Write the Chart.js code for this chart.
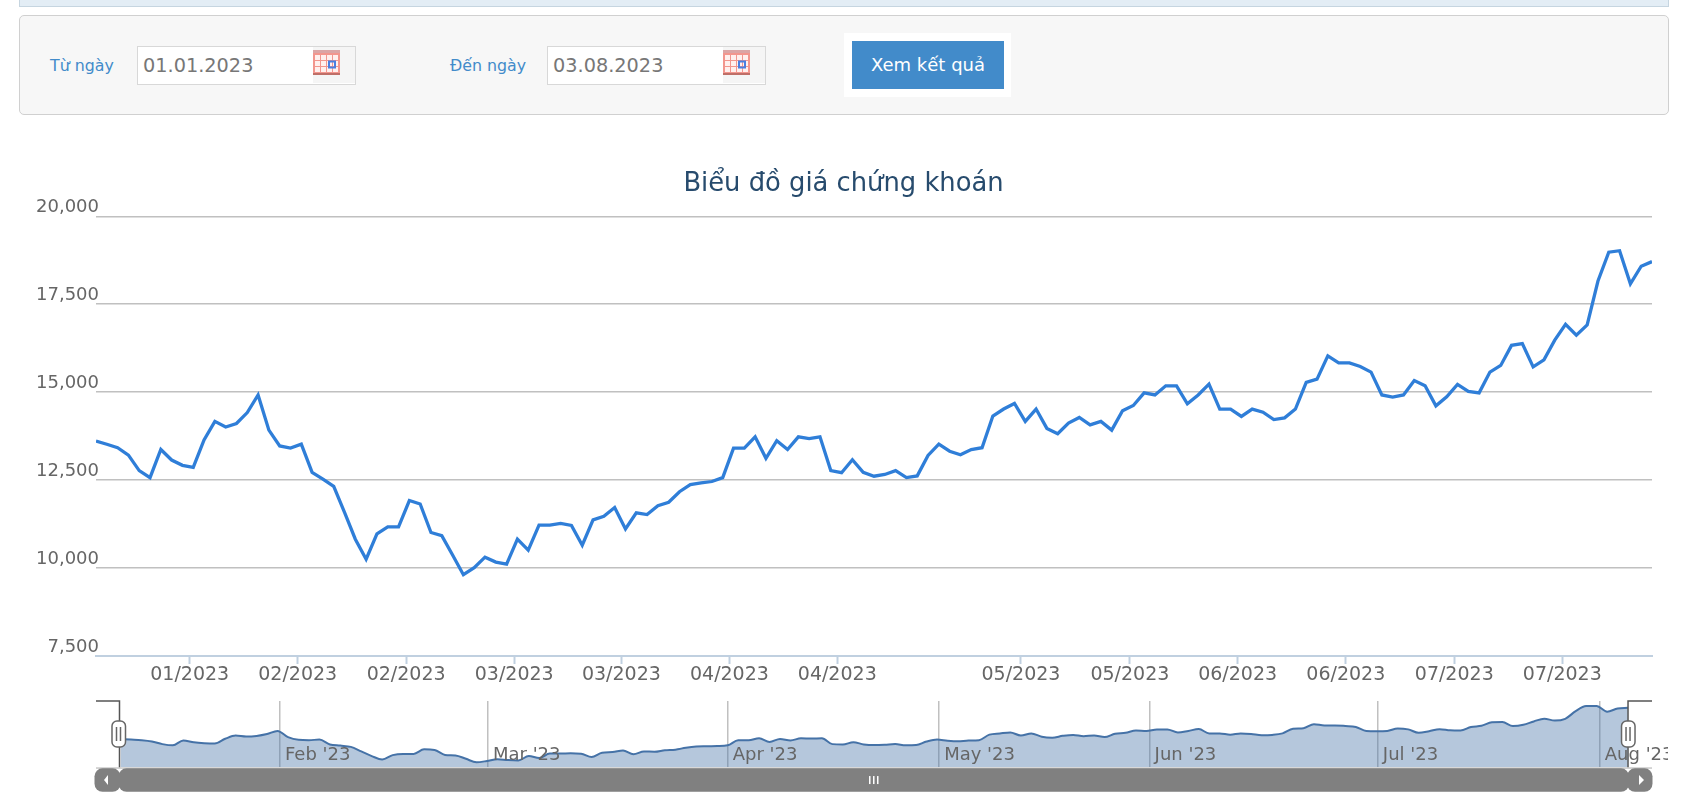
<!DOCTYPE html>
<html lang="vi">
<head>
<meta charset="utf-8">
<title>Biểu đồ giá chứng khoán</title>
<script src="https://cdn.jsdelivr.net/npm/chart.js@4"></script>
<style>
html, body { margin: 0; padding: 0; background: #fff; width: 1708px; height: 800px; overflow: hidden; font-family: "DejaVu Sans", sans-serif; }
.abs { position: absolute; box-sizing: border-box; }
#strip { left: 19px; top: -2px; width: 1650px; height: 9px; background: #e3edf5; border: 1.5px solid #c6d5e0; }
#panel { left: 19px; top: 15px; width: 1650px; height: 100px; background: #f7f7f7; border: 1.5px solid #d0d0d0; border-radius: 5px; }
.lbl { color: #428bca; font-size: 15.8px; line-height: 20px; top: 56px; white-space: nowrap; }
.inp { top: 46px; width: 219px; height: 39px; background: #fff; border: 1.5px solid #d8d8d8; color: #777; font-size: 19.3px; line-height: 38px; padding-left: 5px; white-space: nowrap; }
.inp span { position: absolute; left: 175px; top: 0; width: 42px; height: 36px; background: #f5f5f5; }
.inp svg { position: absolute; left: 175px; top: 3px; }
#btnWrap { left: 844px; top: 33px; width: 167px; height: 64px; background: #fff; }
#btn { left: 852px; top: 41px; width: 152px; height: 48px; background: #428bca; color: #fff; font-size: 18px; line-height: 48px; text-align: center; white-space: nowrap; }
#mainBox { left: 0; top: 150px; width: 1708px; height: 546px; }
#navBox { left: 19px; top: 690px; width: 1649px; height: 110px; }
</style>
</head>
<body>
<svg width="0" height="0" style="position:absolute">
  <defs>
    <symbol id="cal" viewBox="0 0 27 25">
      <rect x="0" y="0" width="27" height="25" fill="#f2968e"/>
      <rect x="0" y="0" width="27" height="3" fill="#dba5a5"/>
      <g fill="#fff0ee">
        <rect x="2" y="5" width="5" height="5"/><rect x="8" y="5" width="5" height="5"/><rect x="14" y="5" width="5" height="5"/><rect x="20" y="5" width="5" height="5"/>
        <rect x="2" y="11" width="5" height="5"/><rect x="8" y="11" width="5" height="5"/><rect x="14" y="11" width="5" height="5"/><rect x="20" y="11" width="5" height="5"/>
        <rect x="2" y="17" width="5" height="5"/><rect x="8" y="17" width="5" height="5"/><rect x="14" y="17" width="5" height="5"/><rect x="20" y="17" width="5" height="5"/>
      </g>
      <rect x="0" y="23" width="27" height="2" fill="#bf6f68"/>
      <rect x="16" y="11.5" width="6" height="6" fill="none" stroke="#4a7fe0" stroke-width="2"/>
    </symbol>
  </defs>
</svg>
<div id="strip" class="abs"></div>
<div id="panel" class="abs"></div>
<div class="abs lbl" style="left:50px">Từ ngày</div>
<div class="abs inp" style="left:137px">01.01.2023<span></span><svg width="27" height="25"><use href="#cal"/></svg></div>
<div class="abs lbl" style="left:450px">Đến ngày</div>
<div class="abs inp" style="left:547px">03.08.2023<span></span><svg width="27" height="25"><use href="#cal"/></svg></div>
<div id="btnWrap" class="abs"></div>
<div id="btn" class="abs">Xem kết quả</div>
<div id="mainBox" class="abs"><canvas id="priceChart"></canvas></div>
<div id="navBox" class="abs"><canvas id="navChart"></canvas></div>
<script>
// Close prices, one per session
const prices = [
13610, 13520, 13420, 13210, 12770, 12570, 13370, 13070, 12920, 12860,
13640, 14170, 14010, 14110, 14420, 14920, 13920, 13470, 13410, 13520,
12720, 12530, 12320, 11580, 10820, 10250, 10970, 11170, 11170, 11920,
11820, 11010, 10920, 10370, 9810, 10010, 10310, 10170, 10110, 10820,
10510, 11220, 11220, 11270, 11210, 10650, 11370, 11470, 11720, 11110,
11570, 11520, 11770, 11870, 12170, 12370, 12420, 12460, 12570, 13410,
13410, 13730, 13120, 13620, 13370, 13730, 13680, 13730, 12770, 12710,
13080, 12720, 12610, 12660, 12770, 12570, 12620, 13200, 13520, 13320,
13220, 13370, 13420, 14320, 14520, 14680, 14170, 14520, 13970, 13820,
14120, 14280, 14070, 14170, 13920, 14470, 14620, 14980, 14920, 15180,
15180, 14670, 14920, 15230, 14520, 14520, 14310, 14520, 14430, 14220,
14270, 14520, 15280, 15370, 16030, 15830, 15830, 15730, 15570, 14920,
14860, 14920, 15330, 15180, 14610, 14870, 15220, 15020, 14980, 15570,
15760, 16330, 16380, 15720, 15920, 16480, 16930, 16620, 16910, 18160,
18980, 19020, 18080, 18580, 18710
];

// Main axis ticks (session index and label)
const tickIndexes = [8.67, 18.67, 28.7, 38.7, 48.62, 58.62, 68.6, 85.6, 95.68, 105.65, 115.66, 125.7, 135.7];
const tickLabels = ['01/2023', '02/2023', '02/2023', '03/2023', '03/2023', '04/2023', '04/2023', '05/2023', '05/2023', '06/2023', '06/2023', '07/2023', '07/2023'];

// Navigator month marks
const navIndexes = [15.23, 35.1, 58, 78.2, 98.3, 120.1, 141.3];
const navLabels = ["Feb '23", "Mar '23", "Apr '23", "May '23", "Jun '23", "Jul '23", "Aug '23"];

const textFont = '"DejaVu Sans", sans-serif';
const points = prices.map((v, i) => ({ x: i, y: v }));

function noAxisPadding(scale) {
  scale.paddingLeft = 0;
  scale.paddingRight = 0;
  scale.paddingTop = 0;
  scale.paddingBottom = 0;
}

// y labels stick out a little past the axis start, let them through the label clip
const labelOverhang = {
  id: 'labelOverhang',
  afterLayout(chart) { chart.scales.y.right += 3; }
};

const priceChart = new Chart(document.getElementById('priceChart'), {
  type: 'line',
  data: {
    datasets: [{
      data: points,
      borderColor: '#2f7ed8',
      borderWidth: 3.3,
      pointRadius: 0,
      tension: 0,
      fill: false
    }]
  },
  options: {
    responsive: true,
    maintainAspectRatio: false,
    animation: false,
    layout: { padding: { left: 35, right: 56, top: 0, bottom: 0 } },
    plugins: {
      legend: { display: false },
      tooltip: { enabled: false },
      title: {
        display: true,
        text: 'Biểu đồ giá chứng khoán',
        color: '#274b6d',
        font: { family: textFont, size: 25.8, weight: 'normal' },
        padding: { top: 18.5, bottom: 16.8 }
      }
    },
    scales: {
      x: {
        type: 'linear',
        min: 0,
        max: 144,
        afterBuildTicks: axis => { axis.ticks = tickIndexes.map(v => ({ value: v })); },
        afterFit: axis => { noAxisPadding(axis); axis.height = 40; },
        border: { color: '#c0d0e0', width: 2 },
        grid: { drawOnChartArea: false, color: '#c0d0e0', tickLength: 8, tickWidth: 2 },
        ticks: {
          autoSkip: false,
          maxRotation: 0,
          minRotation: 0,
          padding: 0,
          color: '#666',
          font: { family: textFont, size: 19 },
          callback: (value, i) => tickLabels[i]
        }
      },
      y: {
        min: 7500,
        max: 20000,
        afterFit: axis => { noAxisPadding(axis); axis.width = 61; },
        border: { display: false },
        grid: { color: '#c0c0c0', lineWidth: 1.5, drawTicks: false },
        ticks: {
          stepSize: 2500,
          padding: 0,
          labelOffset: -8.5,
          color: '#666',
          font: { family: textFont, size: 18 },
          callback: v => v.toLocaleString('en-US')
        }
      }
    }
  },
  plugins: [labelOverhang]
});

// Slider outline, handles and scrollbar under the navigator
const navWidgets = {
  id: 'navWidgets',
  afterDraw(chart) {
    const ctx = chart.ctx;
    const area = chart.chartArea;
    const from = chart.scales.x.getPixelForValue(0) - 1;
    const to = chart.scales.x.getPixelForValue(prices.length - 1);
    const barTop = area.bottom + 1;
    const barH = 23.5;

    ctx.save();
    // track
    ctx.fillStyle = '#c8c8c8';
    ctx.fillRect(area.left, area.bottom, area.width, 1.5);
    ctx.fillStyle = '#808080';
    ctx.beginPath();
    ctx.roundRect(from - 1, barTop, to - from + 2, barH, 8);
    ctx.fill();
    ctx.beginPath();
    ctx.roundRect(area.left - 1.5, barTop, from - area.left + 2.5, barH, 8);
    ctx.fill();
    ctx.beginPath();
    ctx.roundRect(to - 1, barTop, area.right - to + 1.5, barH, 8);
    ctx.fill();

    // arrows and grip
    const midY = barTop + barH / 2;
    ctx.fillStyle = '#fff';
    ctx.beginPath();
    ctx.moveTo(area.left + 12, midY - 5); ctx.lineTo(area.left + 12, midY + 5); ctx.lineTo(area.left + 8, midY);
    ctx.closePath(); ctx.fill();
    ctx.beginPath();
    ctx.moveTo(area.right - 13, midY - 5); ctx.lineTo(area.right - 13, midY + 5); ctx.lineTo(area.right - 8, midY);
    ctx.closePath(); ctx.fill();
    const gripX = (from + to) / 2;
    [-4, 0, 4].forEach(d => ctx.fillRect(gripX + d - 0.75, midY - 4, 1.5, 8));

    // outline
    ctx.strokeStyle = '#555';
    ctx.lineWidth = 1.5;
    ctx.beginPath();
    ctx.moveTo(area.left, area.top); ctx.lineTo(from, area.top); ctx.lineTo(from, area.bottom);
    ctx.moveTo(to, area.bottom); ctx.lineTo(to, area.top); ctx.lineTo(area.right, area.top);
    ctx.stroke();

    // handles
    [from - 1, to].forEach(x => {
      ctx.fillStyle = '#fff';
      ctx.strokeStyle = '#666';
      ctx.lineWidth = 1.5;
      ctx.beginPath();
      ctx.roundRect(x - 6.5, area.top + 20, 13.5, 26, 5);
      ctx.fill();
      ctx.stroke();
      ctx.beginPath();
      ctx.moveTo(x - 2, area.top + 26); ctx.lineTo(x - 2, area.top + 40);
      ctx.moveTo(x + 2, area.top + 26); ctx.lineTo(x + 2, area.top + 40);
      ctx.stroke();
    });
    ctx.restore();
  }
};

const navChart = new Chart(document.getElementById('navChart'), {
  type: 'line',
  data: {
    datasets: [{
      data: points,
      borderColor: '#4572a7',
      borderWidth: 2,
      backgroundColor: 'rgba(69,114,167,0.4)',
      pointRadius: 0,
      cubicInterpolationMode: 'monotone',
      fill: 'start'
    }]
  },
  options: {
    responsive: true,
    maintainAspectRatio: false,
    animation: false,
    layout: { padding: { left: 77, right: 16, top: 11, bottom: 0 } },
    plugins: { legend: { display: false }, tooltip: { enabled: false }, title: { display: false } },
    scales: {
      x: {
        type: 'linear',
        min: -2.34,
        max: 146.29,
        afterBuildTicks: axis => { axis.ticks = navIndexes.map(v => ({ value: v })); },
        afterFit: axis => { noAxisPadding(axis); axis.height = 32.7; },
        border: { display: false },
        grid: { color: '#c0c0c0', lineWidth: 1.5, drawTicks: false },
        ticks: {
          autoSkip: false,
          maxRotation: 0,
          minRotation: 0,
          mirror: true,
          align: 'start',
          labelOffset: 5,
          padding: 1.5,
          z: 1,
          color: '#666',
          font: { family: textFont, size: 18 },
          callback: (value, i) => navLabels[i]
        }
      },
      y: {
        display: false,
        min: 8983,
        max: 19817
      }
    }
  },
  plugins: [navWidgets]
});
</script>
</body>
</html>
